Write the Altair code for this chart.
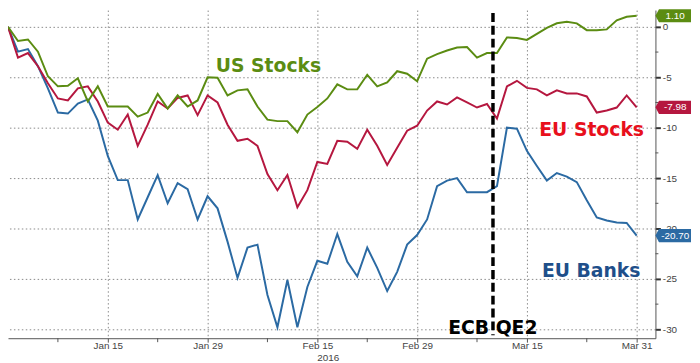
import altair as alt
import pandas as pd

# trading-day index 0..63 (Dec 31 2015 .. Mar 31 2016)
us_stocks = [0, -1.4, -1.25, -2.46, -4.9, -5.9, -5.84, -5.1, -7.4, -5.9,
             -7.9, -7.9, -7.9, -8.9, -8.5, -6.65, -8.1, -6.8, -7.9, -7.3,
             -5.0, -5.05, -6.8, -6.3, -6.2, -7.9, -9.2, -9.35, -9.35, -10.45,
             -8.7, -7.95, -7.1, -5.7, -6.2, -6.2, -4.75, -5.9, -5.5, -4.4,
             -4.65, -5.4, -3.15, -2.7, -2.35, -2.05, -2.0, -3.05, -2.6, -2.6,
             -1.05, -1.1, -1.3, -0.7, -0.1, 0.35, 0.5, 0.35, -0.33, -0.33,
             -0.25, 0.65, 1.0, 1.10]
eu_stocks = [0, -3.05, -2.6, -3.9, -5.6, -7.1, -7.3, -6.1, -5.9, -7.4,
             -9.5, -10.2, -8.7, -11.8, -9.7, -7.4, -8.1, -7.05, -6.8, -8.75,
             -6.8, -7.5, -9.7, -11.3, -11.1, -11.8, -14.6, -16.2, -14.7, -17.9,
             -16.2, -13.4, -13.6, -11.3, -11.4, -12.1, -10.2, -11.8, -13.7, -12.0,
             -10.3, -9.8, -8.3, -7.4, -7.7, -7.0, -7.5, -8.0, -7.65, -9.1,
             -5.9, -5.35, -6.05, -6.2, -6.8, -6.3, -6.6, -6.6, -6.9, -8.5,
             -8.3, -8.0, -6.8, -7.98]
eu_banks = [0, -2.46, -2.2, -3.9, -6.1, -8.5, -8.6, -7.6, -7.2, -9.3,
            -12.8, -15.2, -15.2, -19.1, -16.9, -14.7, -17.5, -15.5, -16.1, -19.1,
            -16.8, -18.0, -21.3, -24.9, -21.9, -21.6, -26.6, -29.8, -25.1, -29.8,
            -25.8, -23.2, -23.5, -20.55, -23.3, -24.75, -21.9, -23.9, -26.2, -24.3,
            -21.6, -20.65, -19.1, -15.8, -15.25, -15.0, -16.4, -16.4, -16.4, -15.8,
            -10.0, -10.1, -12.3, -13.8, -15.25, -14.5, -14.85, -15.4, -17.2, -18.9,
            -19.2, -19.4, -19.45, -20.70]

series_names = ["EU Banks", "EU Stocks", "US Stocks"]
series_colors = ["#2b6aa3", "#b5173f", "#5b8c12"]
box_colors = ["#2f6fae", "#c0143c", "#6a9a22"]
box_texts = ["-20.70", "-7.98", "1.10"]

tick_idx = [10, 20, 31, 41, 52, 63]
tick_labels = ["Jan 15", "Jan 29", "Feb 15", "Feb 29", "Mar 15", "Mar 31"]
minor_x = [5, 15, 26, 36, 47, 58]
y_major = [0, -5, -10, -15, -20, -25, -30]
y_minor = [-2.5, -7.5, -12.5, -17.5, -22.5, -27.5]
qe2_idx = 48.6

W, H = 655, 332

rows = []
for name, vals in zip(series_names, [eu_banks, eu_stocks, us_stocks]):
    for i, v in enumerate(vals):
        rows.append({"idx": i, "value": v, "series": name})
df = pd.DataFrame(rows)

label_expr = "".join(
    f"datum.value == {t} ? '{l}' : " for t, l in zip(tick_idx, tick_labels)
) + "''"

xscale = alt.Scale(domain=[0, 64.88], nice=False, zero=False)
yscale = alt.Scale(domain=[-30.88, 1.667], nice=False, zero=False)
cscale = alt.Scale(domain=series_names, range=series_colors)

lines = alt.Chart(df).mark_line(strokeWidth=2).encode(
    x=alt.X("idx:Q", scale=xscale, axis=alt.Axis(
        values=tick_idx, labelExpr=label_expr, title=None, grid=True,
        gridDash=[1.5, 2.5], gridColor="#8a8a8a", gridWidth=1,
        domainColor="#555555", tickColor="#555555", tickSize=4,
        labelColor="#444444", labelFontSize=10, labelFont="Liberation Sans",
        labelPadding=-2, labelFlush=False)),
    y=alt.Y("value:Q", scale=yscale, axis=alt.Axis(
        orient="right", values=y_major, title=None, grid=True,
        gridDash=[1.5, 2.5], gridColor="#8a8a8a", gridWidth=1,
        labelExpr="datum.value == 0 ? '0' : '-' + abs(datum.value)",
        domainColor="#555555", tickColor="#333333", tickSize=5, tickWidth=2,
        labelColor="#444444", labelFontSize=10, labelFont="Liberation Sans",
        labelPadding=2)),
    color=alt.Color("series:N", scale=cscale, legend=None),
    order="idx:Q",
)

minor_x_df = pd.DataFrame({"idx": minor_x})
minor_x_rules = alt.Chart(minor_x_df).mark_rule(color="#555555").encode(
    x=alt.X("idx:Q", scale=xscale), y=alt.value(H), y2=alt.value(H + 4))

minor_y_df = pd.DataFrame({"value": y_minor})
minor_y_rules = alt.Chart(minor_y_df).mark_rule(color="#555555").encode(
    y=alt.Y("value:Q", scale=yscale), x=alt.value(W), x2=alt.value(W + 3))

qe_df = pd.DataFrame({"idx": [qe2_idx]})
qe_rule = alt.Chart(qe_df).mark_rule(
    color="black", strokeWidth=3.5, strokeDash=[9, 4]).encode(
    x=alt.X("idx:Q", scale=xscale), y=alt.value(3), y2=alt.value(329))

box_df = pd.DataFrame({
    "series": series_names,
    "value": [eu_banks[-1], eu_stocks[-1], us_stocks[-1]],
    "text": box_texts,
})
box_path = "M -1 0 L -0.8 -0.37 L 1 -0.37 L 1 0.37 L -0.8 0.37 Z"
boxes = alt.Chart(box_df).mark_point(
    shape=box_path, filled=True, size=1296, opacity=1, strokeWidth=0).encode(
    x=alt.value(W + 18), y=alt.Y("value:Q", scale=yscale),
    color=alt.Color("series:N", scale=alt.Scale(domain=series_names, range=box_colors), legend=None))
box_text = alt.Chart(box_df).mark_text(
    color="white", fontSize=10, font="Liberation Sans", align="center", baseline="middle").encode(
    x=alt.value(W + 20), y=alt.Y("value:Q", scale=yscale), text="text:N")

ann = [
    ("US Stocks", 263.5, 56.5, "#5b8c12"),
    ("EU Stocks", 590.5, 121.5, "#e8101c"),
    ("EU Banks", 590, 264.5, "#1f4f8a"),
    ("ECB QE2", 490.5, 321.5, "#000000"),
]
ann_layers = [
    alt.Chart(pd.DataFrame({"t": [t]})).mark_text(
        font="DejaVu Sans", fontWeight="bold", fontSize=19, color=c,
        align="center", baseline="middle").encode(
        x=alt.value(x), y=alt.value(y), text="t:N")
    for t, x, y, c in ann
]
year = alt.Chart(pd.DataFrame({"t": ["2016"]})).mark_text(
    font="Liberation Sans", fontSize=10, color="#444444", align="center",
    baseline="middle").encode(x=alt.value(324), y=alt.value(352), text="t:N")

chart = alt.layer(
    lines, minor_x_rules, minor_y_rules, qe_rule, boxes, box_text, year, *ann_layers
).properties(
    width=W, height=H,
    padding={"left": 0, "top": 0, "right": 37, "bottom": 23},
    autosize=alt.AutoSizeParams(type="none"),
    background="white",
).configure_view(stroke=None)

chart.save("out.html", embed_options={"renderer": "svg", "actions": False})
